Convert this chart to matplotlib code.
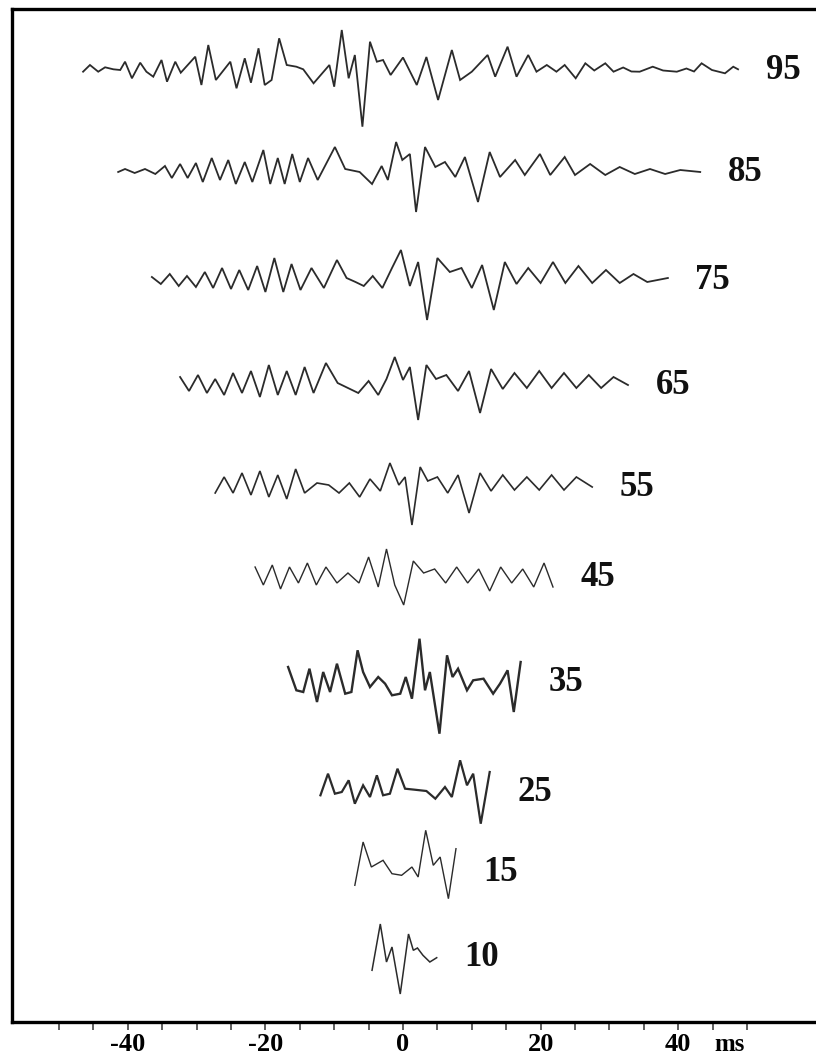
import numpy as np
import matplotlib.pyplot as plt

# window lengths (ms) shown next to each trace
labels = [95, 85, 75, 65, 55, 45, 35, 25, 15, 10]
# trace baselines, in picture rows from the top
offsets = [70, 172, 280, 385, 487, 577, 682, 792, 872, 957]

# (time ms, amplitude) vertices
t95 = [-46.5, -45.5, -44.3, -43.3, -42.1, -41.1, -40.4, -39.4, -38.2, -37.3, -36.3, -35.1, -34.3, -33.1,
       -32.3, -30.2, -29.3, -28.3, -27.2, -25.1, -24.2, -23.0, -22.1, -21.0, -20.1, -19.1, -18.0, -16.9,
       -15.5, -14.5, -13.0, -10.7, -10.0, -8.9, -7.9, -7.0, -5.9, -4.8, -3.8, -2.9, -1.8, 0.0, 2.0, 3.4,
       5.1, 7.1, 8.3, 10.0, 12.3, 13.4, 15.2, 16.5, 18.2, 19.4, 20.9, 22.3, 23.5, 25.1, 26.5, 27.8, 29.4,
       30.6, 32.0, 33.2, 34.4, 36.3, 37.8, 39.8, 41.2, 42.3, 43.4, 44.9, 46.8, 48.0, 48.7]
a95 = [-1.7, 5, -1.7, 2.7, 0.7, 0, 8.3, -8.3, 7.3, -1.7, -6.7, 10, -11.7, 8.3,
       -2.7, 13.3, -15, 25, -10, 8.3, -18.3, 11.7, -12.7, 21.7, -15, -10, 31.7, 5,
       3.3, 0.7, -13.3, 5, -16.7, 40, -8.3, 15, -56.7, 28.3, 8.3, 10, -5, 12.5, -15, 13,
       -30, 20, -10, -1.7, 15, -6.7, 23.3, -6.7, 15, -1.7, 5, -1.7, 5, -8.3, 6.7, -0.5, 6.7,
       -1.7, 2.5, -1.5, -1.7, 3.3, -0.5, -1.7, 1.5, -1.5, 6.7, 0, -3.3, 3.3, 0.7]

t85 = [-41.4, -40.4, -39.0, -37.5, -36.0, -34.6, -33.6, -32.4, -31.3, -30.1, -29.1, -27.8, -26.6, -25.4,
       -24.3, -23.0, -21.9, -20.3, -19.3, -18.2, -17.2, -16.1, -15.0, -13.8, -12.4, -9.9, -8.4, -6.3,
       -4.5, -3.1, -2.2, -1.0, -0.1, 1.0, 1.9, 3.2, 4.7, 6.1, 7.6, 9.0, 10.9, 12.6, 14.1, 16.3, 17.7,
       19.9, 21.4, 23.5, 25.0, 27.2, 29.4, 31.5, 33.7, 35.9, 38.1, 40.3, 43.2]
a85 = [0, 3, -1, 3, -2, 6, -6, 8, -6, 9, -10, 14, -8, 12,
       -12, 10, -10, 22, -12, 14, -12, 18, -10, 14, -8, 25, 3, 0,
       -12, 6, -8, 30, 12, 18, -40, 25, 5, 10, -5, 15, -30, 20, -5, 12, -3,
       18, -3, 15, -3, 8, -3, 5, -2, 3, -2, 2, 0]

t75 = [-36.5, -35.2, -33.9, -32.6, -31.4, -30.1, -28.8, -27.6, -26.3, -25.0, -23.8, -22.5, -21.2, -20.0,
       -18.7, -17.4, -16.2, -14.9, -13.3, -11.5, -9.6, -8.2, -6.9, -5.7, -4.4, -3.0, -1.6, -0.3, 1.0,
       2.2, 3.5, 5.0, 6.8, 8.5, 10.0, 11.5, 13.2, 14.8, 16.5, 18.2, 20.0, 21.8, 23.6, 25.5, 27.5, 29.5,
       31.5, 33.5, 35.5, 38.5]
a75 = [3, -4, 6, -6, 4, -7, 8, -8, 12, -9, 10, -10, 14, -12,
       22, -12, 16, -10, 12, -8, 20, 2, -2, -6, 4, -8, 12, 30, -6, 18, -40, 22, 8, 12, -8, 15,
       -30, 18, -4, 12, -3, 18, -3, 14, -3, 10, -3, 6, -2, 2]

t65 = [-32.4, -31.1, -29.8, -28.5, -27.3, -26.0, -24.7, -23.4, -22.1, -20.8, -19.5, -18.2, -16.9, -15.6,
       -14.3, -13.0, -11.2, -9.5, -8.0, -6.5, -5.0, -3.6, -2.4, -1.2, 0.0, 1.0, 2.2, 3.4, 4.8, 6.3, 8.0,
       9.6, 11.2, 12.8, 14.5, 16.2, 18.0, 19.8, 21.6, 23.4, 25.2, 27.0, 28.8, 30.6, 32.7]
a65 = [8, -6, 10, -8, 6, -10, 12, -8, 14, -12, 20, -10, 14, -10, 18, -8, 22, 2, -3, -8, 4, -10, 6,
       28, 5, 18, -35, 20, 6, 10, -6, 14, -28, 16, -4, 12, -3, 14, -3, 12, -3, 10, -3, 8, 0]

t55 = [-27.3, -26.0, -24.7, -23.4, -22.1, -20.8, -19.5, -18.2, -16.9, -15.6, -14.3, -12.5, -10.8, -9.3,
       -7.8, -6.3, -4.8, -3.3, -1.9, -0.6, 0.3, 1.3, 2.5, 3.6, 5.0, 6.5, 8.0, 9.6, 11.2, 12.8, 14.5,
       16.2, 18.0, 19.8, 21.6, 23.4, 25.2, 27.5]
a55 = [-6, 10, -6, 14, -8, 16, -10, 12, -12, 18, -6, 4, 2, -6, 4, -10, 8, -4, 24, 2, 10, -38, 20, 6,
       10, -6, 12, -26, 14, -4, 12, -3, 10, -3, 12, -3, 10, 0]

t45 = [-21.5, -20.3, -19.0, -17.8, -16.5, -15.2, -13.9, -12.6, -11.2, -9.6, -8.0, -6.4, -5.0, -3.6,
       -2.4, -1.2, 0.1, 1.5, 3.0, 4.6, 6.2, 7.8, 9.4, 11.0, 12.6, 14.2, 15.8, 17.4, 19.0, 20.5, 21.8]
a45 = [10, -8, 12, -12, 10, -6, 14, -8, 10, -6, 4, -6, 20, -10, 28, -8, -28, 16, 4, 8, -6, 10, -6,
       8, -14, 10, -6, 8, -10, 14, -10]

t35 = [-16.7, -15.5, -14.5, -13.6, -12.5, -11.6, -10.6, -9.6, -8.4, -7.5, -6.6, -5.8, -4.8, -3.6, -2.6,
       -1.6, -0.4, 0.4, 1.3, 2.4, 3.2, 3.9, 5.3, 6.4, 7.2, 8.0, 9.3, 10.2, 11.7, 13.1, 14.1, 15.2, 16.1,
       17.1]
a35 = [15, -8.3, -10, 13.3, -20, 10, -10, 18.3, -11.7, -10, 31.7, 10, -5, 5, -1.7,
       -13.3, -11.7, 5, -16.7, 43.3, -8.3, 10, -51.7, 26.7, 5, 13.3, -8.3, 1.7, 3.3, -11.7, -1.7, 11.7, -30,
       20]

t25 = [-12.0, -10.9, -9.9, -8.9, -7.9, -7.0, -5.8, -4.8, -3.8, -2.9, -1.9, -0.8, 0.3, 1.7, 3.4, 4.7,
       6.1, 7.1, 8.3, 9.3, 10.2, 11.3, 12.6]
a25 = [-3.3, 18.3, -1.7, 0, 11.7, -11.7, 6.7, -5, 16.7, -3.3, -1.7, 23.3, 3.3, 2.3, 1, -6.7,
       5, -5, 31.7, 6.7, 18.3, -31.7, 20]

t15 = [-7.0, -5.8, -4.6, -2.9, -1.6, -0.2, 1.3, 2.2, 3.3, 4.4, 5.4, 6.6, 7.7]
a15 = [-13.3, 30, 5, 11.7, -1.7, -3.3, 5, -5, 41.7, 6.7, 15, -26.7, 23.3]

t10 = [-4.5, -3.3, -2.4, -1.6, -0.4, 0.8, 1.5, 2.1, 2.9, 3.9, 4.9]
a10 = [-13.3, 33, -5, 10, -37, 23, 6.7, 9, 1.7, -5, -0.7]

times = [t95, t85, t75, t65, t55, t45, t35, t25, t15, t10]
amps = [a95, a85, a75, a65, a55, a45, a35, a25, a15, a10]
widths = [1.3, 1.3, 1.3, 1.3, 1.2, 1.0, 1.7, 1.6, 1.0, 1.1]

plt.rcParams['font.family'] = 'Liberation Serif'
plt.rcParams['font.weight'] = 'bold'

fig = plt.figure(figsize=(8.16, 10.6), dpi=100)
ax = fig.add_axes([12 / 816, 1 - 1022 / 1060, 1.0, 1013 / 1060])

for t, a, off, lab, lw in zip(times, amps, offsets, labels, widths):
    ax.plot(t, -off + np.array(a), color='#2b2b2b', lw=lw, solid_joinstyle='miter')
    ax.text(t[-1] + 4.0, -off, str(lab), fontsize=25, fontweight='bold',
            ha='left', va='center', color='#111111')

ax.set_xlim((12 - 403) / 6.88, (828 - 403) / 6.88)
ax.set_ylim(-1022, -9)

for s in ax.spines.values():
    s.set_linewidth(2.4)
    s.set_color('black')

ax.set_yticks([])
ax.set_xticks([-40, -20, 0, 20, 40])
ax.set_xticklabels(['-40', '-20', '0', '20', '40'], fontsize=19, fontweight='bold')
ax.set_xticks([-50, -45, -35, -30, -25, -15, -10, -5, 5, 10, 15, 25, 30, 35, 45, 50], minor=True)
ax.tick_params(axis='x', which='both', direction='out', length=6, width=1.2, color='#444444', pad=2)
ms = ax.text(47.5, -1033, 'ms', fontsize=18, fontweight='bold', ha='center', va='top')
ms.set_clip_on(False)

fig.savefig('out.png', dpi=100)
